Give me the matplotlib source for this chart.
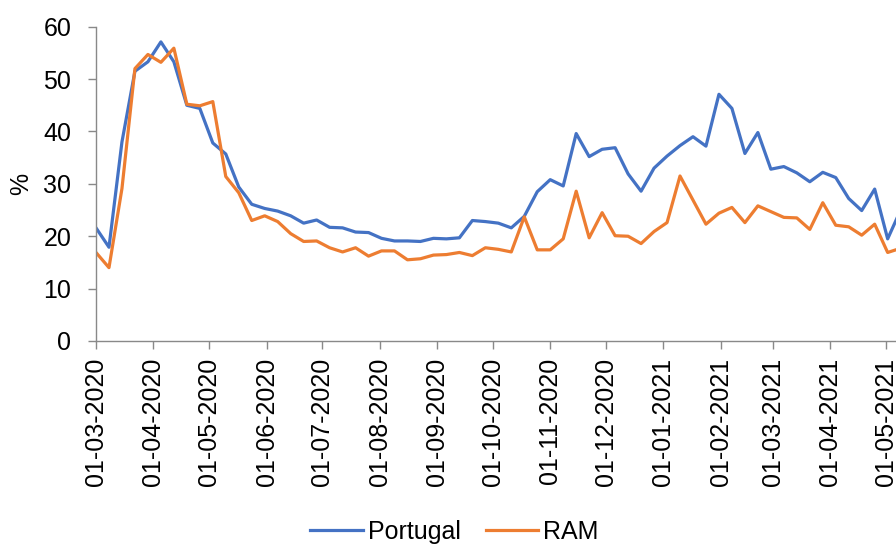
import matplotlib
matplotlib.use("Agg")
import matplotlib.pyplot as plt
import matplotlib.dates as mdates
import pandas as pd

plt.rcParams['font.family'] = ['Liberation Sans', 'DejaVu Sans']

# Weekly series, starting 01-03-2020
start = "2020-03-01"
portugal = [21.6, 17.9, 38.0, 51.5, 53.3, 57.1, 53.3, 45.0, 44.4, 37.8,
            35.7, 29.4, 26.1, 25.3, 24.8, 23.9, 22.5, 23.1, 21.7, 21.6,
            20.8, 20.7, 19.6, 19.1, 19.1, 19.0, 19.6, 19.5, 19.7, 23.0,
            22.8, 22.5, 21.6, 23.8, 28.5, 30.8, 29.6, 39.6, 35.2, 36.6,
            36.9, 31.9, 28.6, 33.0, 35.3, 37.3, 39.0, 37.2, 47.1, 44.4,
            35.8, 39.8, 32.8, 33.3, 32.1, 30.4, 32.2, 31.2, 27.2, 24.9,
            29.0, 19.5, 25.0]
ram = [16.9, 14.0, 29.1, 52.0, 54.7, 53.2, 55.9, 45.2, 44.9, 45.7,
       31.4, 28.3, 23.0, 23.9, 22.8, 20.5, 19.0, 19.1, 17.8, 17.0,
       17.8, 16.2, 17.2, 17.2, 15.5, 15.7, 16.4, 16.5, 16.9, 16.3,
       17.8, 17.5, 17.0, 23.7, 17.4, 17.4, 19.5, 28.6, 19.7, 24.5,
       20.1, 20.0, 18.6, 20.9, 22.6, 31.5, 26.9, 22.3, 24.4, 25.5,
       22.6, 25.8, 24.7, 23.6, 23.5, 21.3, 26.4, 22.1, 21.8, 20.2,
       22.3, 16.9, 17.7]
dates = pd.date_range(start, periods=len(portugal), freq="7D")

BLUE = "#4472C4"
ORANGE = "#ED7D31"
GRAY = "#898989"

fig = plt.figure(figsize=(8.96, 5.46), dpi=100)
ax = fig.add_axes([96 / 896, 1 - 341 / 546, 1 - 96 / 896, (341 - 26.7) / 546])

ax.plot(dates, portugal, color=BLUE, lw=2.3, label="Portugal", solid_joinstyle="round")
ax.plot(dates, ram, color=ORANGE, lw=2.3, label="RAM", solid_joinstyle="round")

t0 = pd.Timestamp(start)
ax.set_xlim(t0, t0 + pd.Timedelta(days=431.5))
ax.set_ylim(0, 60)
ax.set_yticks(range(0, 61, 10))

ax.xaxis.set_major_locator(mdates.MonthLocator(bymonthday=1))
ax.xaxis.set_major_formatter(mdates.DateFormatter("%d-%m-%Y"))

for side in ("top", "right"):
    ax.spines[side].set_visible(False)
for side in ("left", "bottom"):
    ax.spines[side].set_color(GRAY)
    ax.spines[side].set_linewidth(1.0)

ax.tick_params(axis="both", direction="out", length=5.8, width=1.0,
               color=GRAY, labelsize=18, labelcolor="black")
ax.tick_params(axis="y", pad=12)
ax.tick_params(axis="x", pad=6, labelrotation=90)

ax.set_ylabel("%", fontsize=18)
ax.yaxis.set_label_coords(-0.078, 0.5)

fig.legend(loc="center", bbox_to_anchor=(0.507, 0.026), ncol=2, frameon=False,
           fontsize=18, handlelength=2.1, handletextpad=0.2, columnspacing=1.0)

fig.savefig("out.png", dpi=100)
